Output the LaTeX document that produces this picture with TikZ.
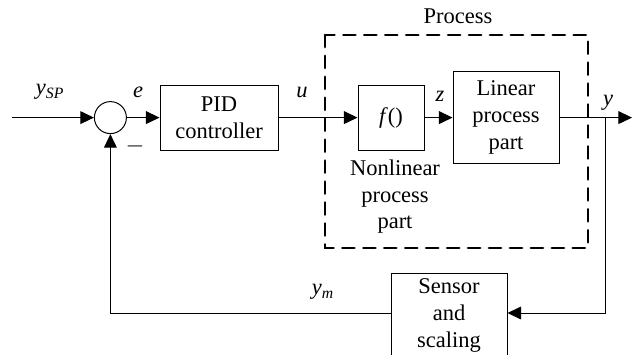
\documentclass[tikz,border=0pt]{standalone}
\usepackage{fontspec}
\setmainfont{Liberation Serif}
\usetikzlibrary{arrows.meta}

\begin{document}
\begin{tikzpicture}[
        font=\fontsize{16}{19}\selectfont,
        line width=0.7pt,
        block/.style={draw, line width=0.7pt, align=center, inner sep=0pt},
        arr/.style={-{Triangle[length=0.34cm, width=0.32cm]}}
    ]
        \useasboundingbox (0, 0) rectangle (15.8, 8.85);

        % the dashed process frame
        \draw[line width=2.1pt, line cap=round, dash pattern=on 8.5pt off 6.4pt] (8.125, 7.975) -- (8.125, 2.65) -- (14.7, 2.65) -- (14.7, 7.975) -- cycle;
        \node (0) at (11.45, 8.45) {Process};

        \node[draw, circle, minimum size=0.8cm, inner sep=0pt] (1) at (2.76, 5.91) {};
        \node[block, minimum width=2.95cm, minimum height=1.625cm] (2) at (5.475, 5.91) {PID\\controller};
        \node[block, minimum width=1.65cm, minimum height=1.625cm] (3) at (9.775, 5.91) {\textit{f}()};
        \node[block, minimum width=2.65cm, minimum height=2.3cm] (4) at (12.65, 5.91) {Linear\\process\\part};
        \node[block, minimum width=2.9cm, minimum height=2.1cm, anchor=north] (5) at (11.225, 2.03) {Sensor\\and\\scaling};
        \node[align=center] (6) at (9.875, 3.93) {Nonlinear\\process\\part};

        \coordinate (7) at (0.3, 5.91);
        \coordinate (8) at (15.8, 5.91);
        \coordinate (9) at (15.14, 5.91);
        \coordinate (10) at (15.14, 1.025);
        \coordinate (11) at (2.76, 1.025);

        \draw[arr] (7) -- (1);
        \draw[arr] (1) -- (2);
        \draw[arr] (2) -- (3);
        \draw[arr] (3) -- (4);
        \draw[arr] (4) -- (8);
        \draw[arr] (9) -- (10) -- (5.east |- 10);
        \draw[arr] (5.west |- 10) -- (11) -- (1);

        \node at (1.25, 6.55) {\textit{y}\textsubscript{\textit{SP}}};
        \node at (3.45, 6.55) {\textit{e}};
        \node at (7.55, 6.55) {\textit{u}};
        \node at (11.0, 6.43) {\textit{z}};
        \node at (15.2, 6.28) {\textit{y}};
        \node at (8.075, 1.55) {\textit{y}\textsubscript{\textit{m}}};
        \node at (3.375, 5.2) {$-$};
    \end{tikzpicture}
\end{document}
